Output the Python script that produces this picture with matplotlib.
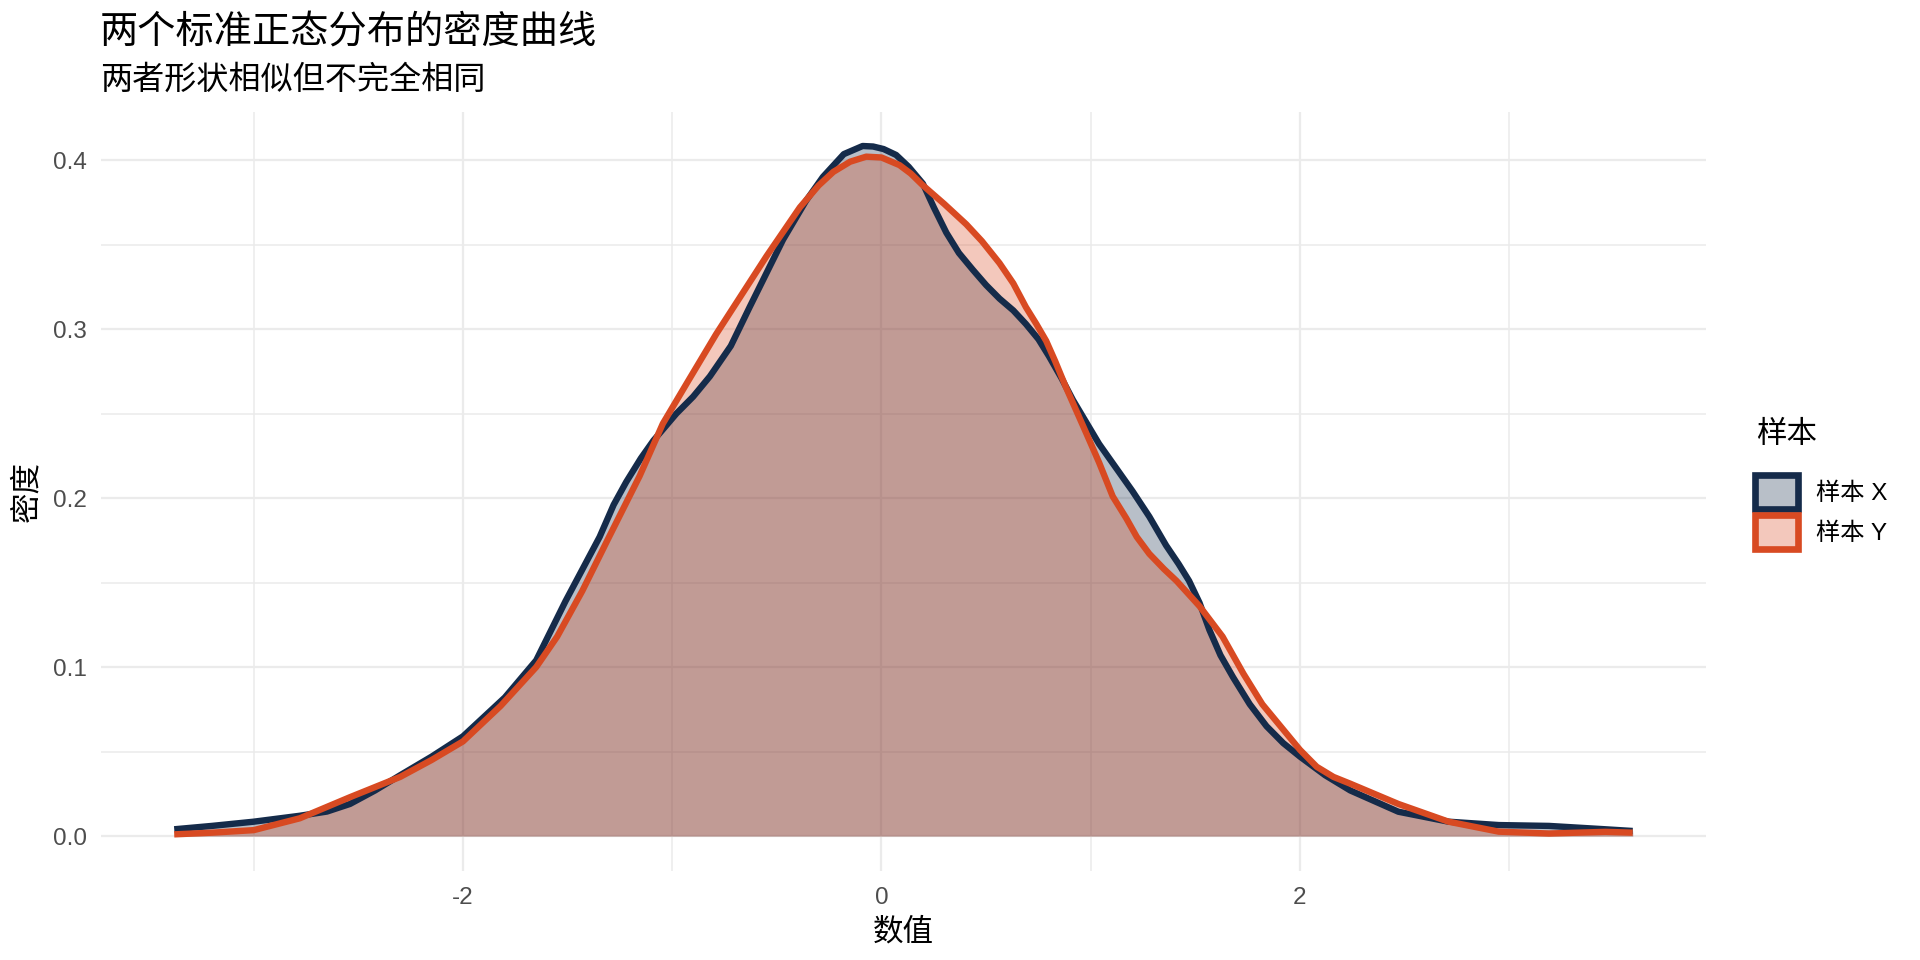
import matplotlib
matplotlib.use("Agg")
import matplotlib.pyplot as plt
from matplotlib.patches import Patch
from matplotlib.colors import to_rgba
from matplotlib.ticker import MultipleLocator

plt.rcParams['font.family'] = ['Liberation Sans', 'Noto Sans CJK SC', 'DejaVu Sans']

# density values
x_a = [-3.38, -3.2, -3.0, -2.78, -2.65, -2.54, -2.42, -2.30, -2.15, -2.0, -1.80, -1.65, -1.51,
       -1.347, -1.28, -1.22, -1.15, -1.09, -0.98, -0.90, -0.82, -0.72, -0.63, -0.47, -0.36,
       -0.28, -0.18, -0.09, -0.04, 0.01, 0.07, 0.13, 0.198, 0.25, 0.31, 0.37, 0.437, 0.50,
       0.564, 0.63, 0.69, 0.75, 0.80, 0.86, 0.915, 1.04, 1.12, 1.20, 1.28, 1.36, 1.42, 1.47,
       1.52, 1.567, 1.62, 1.68, 1.76, 1.84, 1.92, 2.0, 2.12, 2.24, 2.47, 2.71, 2.95, 3.19,
       3.46, 3.59]
y_a = [0.004, 0.006, 0.0085, 0.012, 0.0145, 0.019, 0.027, 0.036, 0.047, 0.059, 0.082, 0.104,
       0.139, 0.177, 0.196, 0.2095, 0.2235, 0.234, 0.250, 0.260, 0.272, 0.290, 0.313, 0.353,
       0.376, 0.390, 0.4035, 0.4083, 0.408, 0.4065, 0.403, 0.396, 0.386, 0.372, 0.357, 0.345,
       0.335, 0.326, 0.318, 0.311, 0.303, 0.294, 0.284, 0.271, 0.258, 0.232, 0.218, 0.204,
       0.189, 0.172, 0.161, 0.151, 0.138, 0.122, 0.107, 0.094, 0.078, 0.065, 0.055, 0.047,
       0.036, 0.027, 0.0144, 0.0085, 0.0065, 0.006, 0.004, 0.003]

x_b = [-3.38, -3.2, -3.0, -2.78, -2.54, -2.30, -2.15, -2.0, -1.82, -1.65, -1.55, -1.43, -1.31,
       -1.156, -1.045, -0.93, -0.79, -0.67, -0.55, -0.39, -0.30, -0.23, -0.15, -0.073, 0.0,
       0.086, 0.14, 0.198, 0.30, 0.405, 0.48, 0.564, 0.63, 0.69, 0.74, 0.787, 0.83, 0.88,
       0.98, 1.04, 1.105, 1.17, 1.22, 1.28, 1.35, 1.41, 1.52, 1.63, 1.68, 1.73, 1.82, 1.92,
       2.0, 2.08, 2.16, 2.24, 2.47, 2.71, 2.95, 3.19, 3.46, 3.59]
y_b = [0.001, 0.002, 0.0035, 0.0105, 0.023, 0.035, 0.045, 0.056, 0.077, 0.100, 0.118, 0.145,
       0.175, 0.213, 0.244, 0.268, 0.297, 0.320, 0.343, 0.372, 0.385, 0.393, 0.399, 0.402,
       0.4015, 0.397, 0.392, 0.385, 0.374, 0.362, 0.352, 0.339, 0.327, 0.313, 0.303, 0.293,
       0.281, 0.266, 0.238, 0.221, 0.201, 0.188, 0.177, 0.167, 0.158, 0.151, 0.136, 0.118,
       0.107, 0.096, 0.078, 0.063, 0.051, 0.041, 0.035, 0.031, 0.019, 0.0085, 0.0026, 0.0015,
       0.0025, 0.002]

labels = ["样本 X", "样本 Y"]
colors = ["#152B4A", "#D84A22"]

fig = plt.figure(figsize=(19.2, 9.6), dpi=100)
ax = fig.add_axes([0.0526, 0.0932, 0.8359, 0.7901])

for xs, ys, c in [(x_a, y_a, colors[0]), (x_b, y_b, colors[1])]:
    ax.fill_between(xs, ys, 0, color=c, alpha=0.3, lw=0, zorder=2)
    ax.plot(xs, ys, color=c, lw=4.6, solid_capstyle='butt', solid_joinstyle='round', zorder=3)

ax.set_xlim(-3.73, 3.94)
ax.set_ylim(-0.0204, 0.4284)
ax.xaxis.set_minor_locator(MultipleLocator(1))
ax.yaxis.set_minor_locator(MultipleLocator(0.05))
ax.set_xticks([-2, 0, 2])
ax.set_xticklabels(["-2", "0", "2"])
ax.set_yticks([0, 0.1, 0.2, 0.3, 0.4])
ax.set_yticklabels(["0.0", "0.1", "0.2", "0.3", "0.4"])
ax.grid(which='major', color='#EBEBEB', lw=1.6)
ax.grid(which='minor', color='#EBEBEB', lw=1.1)
ax.set_axisbelow(True)
for s in ax.spines.values():
    s.set_visible(False)
ax.tick_params(which='both', length=0, labelsize=17.5, labelcolor='#4D4D4D')
ax.tick_params(axis='x', pad=12)
ax.tick_params(axis='y', pad=10)

ax.set_xlabel("数值", fontsize=22, labelpad=6)
ax.set_ylabel("密度", fontsize=22, labelpad=8)

fig.text(100 / 1920, 1 - 33 / 960, "两个标准正态分布的密度曲线", fontsize=27.5, va='center', ha='left')
fig.text(100 / 1920, 1 - 80 / 960, "两者形状相似但不完全相同", fontsize=23.1, va='center', ha='left')

# legend: title as separate text so the gap above the keys can be matched
fig.text(1756 / 1920, 1 - 435 / 960, "样本", fontsize=22, va='center', ha='left')
handles = [Patch(facecolor=to_rgba(c, 0.3), edgecolor=c, lw=4.8) for c in colors]
fig.legend(handles=handles, labels=labels, loc='center left',
           bbox_to_anchor=(1755 / 1920, 1 - 512 / 960), frameon=False,
           fontsize=17.5, handlelength=1.75, handleheight=1.75,
           labelspacing=0.25, handletextpad=0.75, borderpad=0, borderaxespad=0)

fig.savefig("out.png", dpi=100)
